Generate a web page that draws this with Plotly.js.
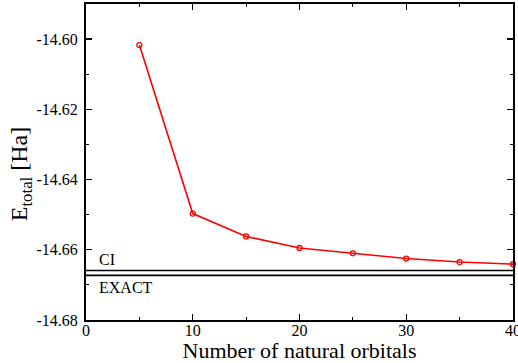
<!DOCTYPE html>
<html>
<head>
<meta charset="utf-8">
<script src="https://cdn.plot.ly/plotly-3.0.1.min.js"></script>
<style>html,body{margin:0;padding:0;background:#fff;}#chart{width:518px;height:363px;}</style>
</head>
<body>
<div id="chart"></div>
<script>
const orbitals = [5, 10, 15, 20, 25, 30, 35, 40];
const energies = [-14.6017, -14.6497, -14.6562, -14.6595, -14.6610, -14.6625, -14.6635, -14.6641];
const ciEnergy = -14.6659;
const exactEnergy = -14.6673;
const refLabels = ["CI", "EXACT"];
const xTickVals = [0, 10, 20, 30, 40];
const xTickText = ["0", "10", "20", "30", "40"];
const yTickVals = [-14.68, -14.66, -14.64, -14.62, -14.60];
const yTickText = ["-14.68", "-14.66", "-14.64", "-14.62", "-14.60"];
const xRange = [0, 40];
const yRange = [-14.68, -14.59];

const font = "Times New Roman, Liberation Serif, serif";

const traces = [
  {x: xRange, y: [ciEnergy, ciEnergy], mode: 'lines', line: {color: '#000', width: 1.6}, hoverinfo: 'skip'},
  {x: xRange, y: [exactEnergy, exactEnergy], mode: 'lines', line: {color: '#000', width: 1.6}, hoverinfo: 'skip'},
  {x: orbitals, y: energies, mode: 'lines+markers', line: {color: '#ff0000', width: 1.6},
   marker: {symbol: 'circle-open', size: 5, color: '#ff0000', line: {width: 1.3, color: '#ff0000'}}, cliponaxis: false}
];

const axisBase = {
  showgrid: false, zeroline: false, showline: true, linecolor: '#000', linewidth: 2,
  mirror: 'ticks', ticks: 'inside', ticklen: 6, tickwidth: 1.3, tickcolor: '#000',
  ticklabeloverflow: 'allow',
  tickfont: {family: font, size: 16, color: '#000'}
};

const layout = {
  width: 518, height: 363,
  margin: {l: 86, r: 5, t: 4, b: 43},
  paper_bgcolor: '#fff', plot_bgcolor: '#fff',
  showlegend: false,
  font: {family: font, color: '#000'},
  xaxis: Object.assign({}, axisBase, {
    range: xRange, tickvals: xTickVals, ticktext: xTickText,
    ticklabelstandoff: -5,
    minor: {ticks: 'inside', tickvals: [5, 15, 25, 35], ticklen: 3, tickwidth: 1, tickcolor: '#000'},
    title: {text: 'Number of natural orbitals', font: {family: font, size: 22, color: '#000'}, standoff: 0}
  }),
  yaxis: Object.assign({}, axisBase, {
    range: yRange, tickvals: yTickVals, ticktext: yTickText,
    ticklabelstandoff: 3,
    minor: {ticks: 'inside', tickvals: [-14.67, -14.65, -14.63, -14.61], ticklen: 3, tickwidth: 1, tickcolor: '#000'},
    title: {text: 'E<sub>total</sub> [Ha]&nbsp;&nbsp;&nbsp;&nbsp;', font: {family: font, size: 24, color: '#000'}, standoff: 2}
  }),
  annotations: [
    {x: 1, y: ciEnergy, xref: 'x', yref: 'y', text: refLabels[0], showarrow: false, xanchor: 'left', yanchor: 'bottom', yshift: 0, font: {family: font, size: 16, color: '#000'}},
    {x: 1, y: exactEnergy, xref: 'x', yref: 'y', text: refLabels[1], showarrow: false, xanchor: 'left', yanchor: 'top', yshift: -2, font: {family: font, size: 16, color: '#000'}}
  ]
};

Plotly.newPlot('chart', traces, layout, {staticPlot: true, displayModeBar: false});
</script>
</body>
</html>
